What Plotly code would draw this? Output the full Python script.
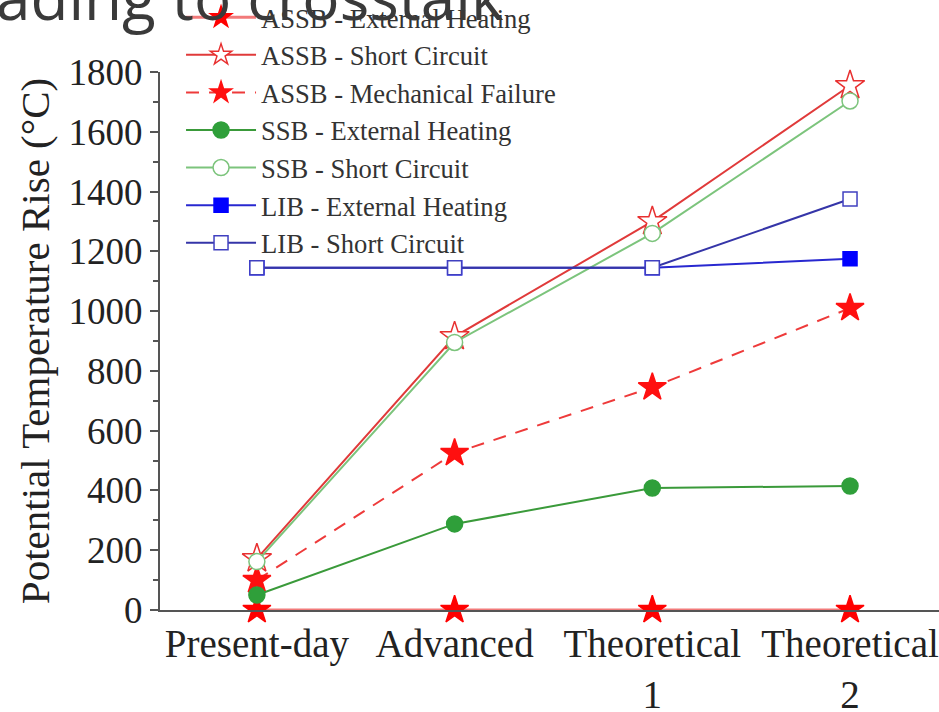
import plotly.graph_objects as go

categories = ["Present-day", "Advanced", "Theoretical 1", "Theoretical 2"]
tick_labels = ["Present-day", "Advanced", "Theoretical<br>1", "Theoretical<br>2"]
assb_ext = [0, 0, 0, 0]
assb_sc = [172, 915, 1300, 1755]
assb_mech = [100, 525, 745, 1010]
ssb_ext = [50, 288, 408, 415]
ssb_sc = [162, 895, 1260, 1703]
lib_ext = [1145, 1145, 1145, 1175]
lib_sc = [1145, 1145, 1145, 1375]

xs = list(range(len(categories)))
fig = go.Figure()

def add(name, y, lcolor, dash, symbol, mfill, mline, size, lw=2):
    fig.add_trace(go.Scatter(
        x=xs, y=y, name=name, mode="lines+markers", cliponaxis=False,
        line=dict(color=lcolor, width=lw, dash=dash),
        marker=dict(symbol=symbol, size=size, color=mfill,
                    line=dict(color=mline, width=1.5)),
    ))

add("ASSB - External Heating", assb_ext, "#f27a7a", "solid", "star", "#ff0000", "#ff0000", 21, 3)
add("ASSB - Short Circuit", assb_sc, "#e03a3a", "solid", "star", "#ffffff", "#e83030", 22)
add("ASSB - Mechanical Failure", assb_mech, "#ee3a3a", "13px,10px", "star", "#ff1010", "#ff1010", 21)
add("SSB - External Heating", ssb_ext, "#3a9a3a", "solid", "circle", "#2f9f3a", "#2f9f3a", 16)
add("SSB - Short Circuit", ssb_sc, "#7cc47c", "solid", "circle", "#ffffff", "#7cc47c", 16)
add("LIB - External Heating", lib_ext, "#2828d0", "solid", "square", "#0000ff", "#0000ff", 14)
add("LIB - Short Circuit", lib_sc, "#3535a8", "solid", "square", "#ffffff", "#4040c0", 14)

serif = "Liberation Serif, Times New Roman, serif"

fig.update_layout(
    width=939, height=712,
    margin=dict(l=160, r=0, t=72, b=102, autoexpand=False),
    paper_bgcolor="white", plot_bgcolor="white",
    showlegend=True,
    legend=dict(
        x=0.027, y=1.146, xanchor="left", yanchor="top",
        bgcolor="rgba(0,0,0,0)", itemwidth=70,
        font=dict(family=serif, size=26.6, color="#333333"),
        tracegroupgap=0,
    ),
    xaxis=dict(
        range=[-0.49, 3.45], tickmode="array", tickvals=xs, ticktext=tick_labels,
        showline=True, linecolor="#555555", linewidth=2, ticks="",
        showgrid=False, zeroline=False, automargin=False, ticklabelstandoff=-2,
        tickfont=dict(family=serif, size=39, color="#222222"),
    ),
    yaxis=dict(
        range=[0, 1800], dtick=200, tick0=0,
        showline=True, linecolor="#555555", linewidth=2,
        ticks="outside", ticklen=8, tickwidth=2, tickcolor="#555555",
        minor=dict(dtick=100, ticks="outside", ticklen=5, tickwidth=2, tickcolor="#555555"),
        showgrid=False, zeroline=False, automargin=False,
        tickfont=dict(family=serif, size=37, color="#222222"),
        title=dict(text="Potential Temperature Rise (°C)",
                   font=dict(family=serif, size=41, color="#222222"), standoff=6),
    ),
    annotations=[dict(
        text="ading to crosstalk", xref="paper", yref="paper",
        x=-160 / 779, y=1 + 72 / 538, xanchor="left", yanchor="top",
        xshift=-6, yshift=48, showarrow=False,
        font=dict(family="Open Sans", size=62, color="#3a3a3a"),
    )],
)

fig.write_html("out.html")
